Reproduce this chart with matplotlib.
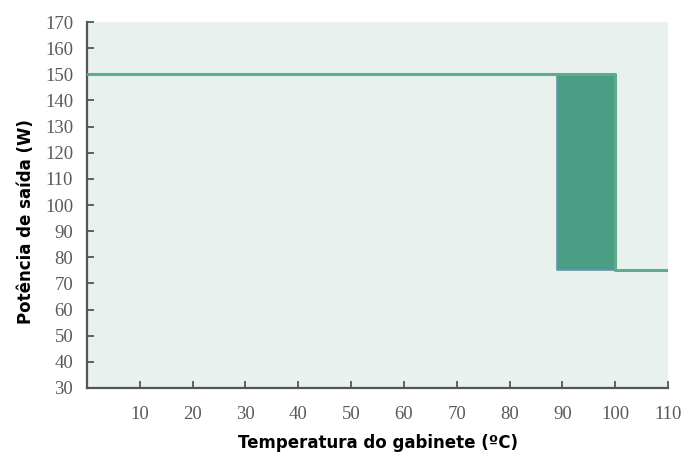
import matplotlib.pyplot as plt

# step curve: output power vs cabinet temperature
temps = [0, 100, 100, 110]
power = [150, 150, 75, 75]

# derating band
band_start = 89
band_end = 100
band_low = 75
band_high = 150

x_ticks = [10, 20, 30, 40, 50, 60, 70, 80, 90, 100, 110]
y_ticks = [30, 40, 50, 60, 70, 80, 90, 100, 110, 120, 130, 140, 150, 160, 170]

fig = plt.figure(figsize=(6.99, 4.59), dpi=100)
ax = fig.add_axes([0.1245, 0.1547, 0.8312, 0.7973])
ax.set_facecolor('#e8f1ed')

ax.fill_between([band_start, band_end], band_low, band_high,
                color='#4a9e84', edgecolor='#6f8fb0', linewidth=1.2, zorder=2)
ax.plot(temps, power, color='#5aad8f', linewidth=2.2, zorder=3)

ax.set_xlim(0, 110)
ax.set_ylim(30, 170)
ax.set_xticks(x_ticks)
ax.set_yticks(y_ticks)

tick_font = dict(family='Liberation Serif', size=13.5, color='#5a5a5a')
ax.set_xticklabels([str(t) for t in x_ticks], fontdict=tick_font)
ax.set_yticklabels([str(t) for t in y_ticks], fontdict=tick_font)
ax.tick_params(direction='in', length=5, width=1.3, color='#555555')
ax.tick_params(axis='y', pad=10)
ax.tick_params(axis='x', pad=13)

for side in ['top', 'right']:
    ax.spines[side].set_visible(False)
for side in ['left', 'bottom']:
    ax.spines[side].set_color('#555555')
    ax.spines[side].set_linewidth(1.6)

ax.set_xlabel('Temperatura do gabinete (ºC)', fontsize=12, fontweight='bold',
              family='DejaVu Sans', labelpad=8)
ax.set_ylabel('Potência de saída (W)', fontsize=12, fontweight='bold',
              family='DejaVu Sans')
ax.yaxis.set_label_coords(-0.09, 0.455)

fig.savefig('out.png', dpi=100)
